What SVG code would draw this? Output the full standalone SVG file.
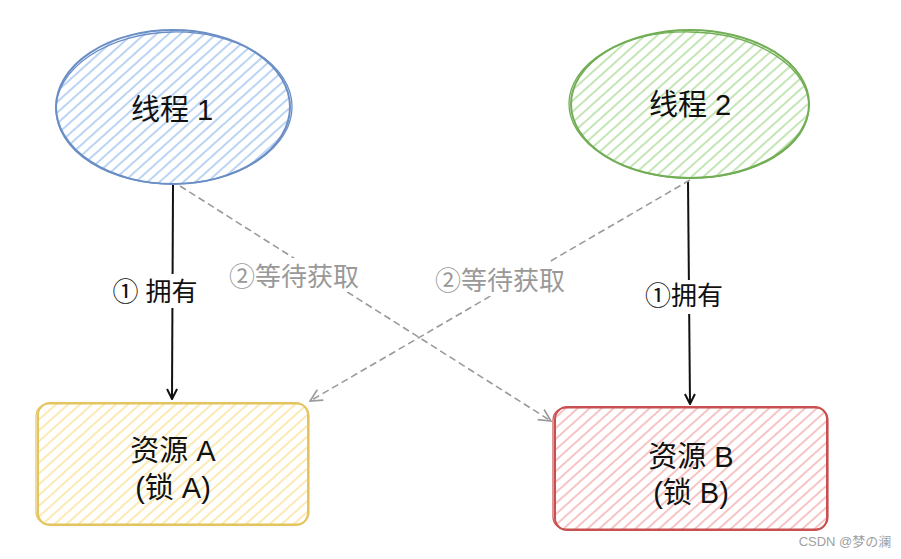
<svg xmlns="http://www.w3.org/2000/svg" width="901" height="559" viewBox="0 0 901 559">
<defs>
<style>
text{font-family:"Liberation Sans","Noto Sans CJK SC",sans-serif;text-anchor:middle;}
.lbl{font-size:29px;fill:#111;}
.edge{font-size:26px;}
.own{stroke:#111;stroke-width:2;fill:none;}
.wait{stroke:#9a9a9a;stroke-width:1.6;fill:none;stroke-dasharray:7 4;}
</style>
<pattern id="hb" patternUnits="userSpaceOnUse" width="8" height="8" patternTransform="rotate(-42)"><line x1="0" y1="2" x2="8" y2="2" stroke="#b3cff2" stroke-width="1.8"/></pattern>
<pattern id="hg" patternUnits="userSpaceOnUse" width="8" height="8" patternTransform="rotate(-42)"><line x1="0" y1="2" x2="8" y2="2" stroke="#bde2ae" stroke-width="1.8"/></pattern>
<pattern id="hy" patternUnits="userSpaceOnUse" width="8" height="8" patternTransform="rotate(-42)"><line x1="0" y1="2" x2="8" y2="2" stroke="#fbe8aa" stroke-width="1.8"/></pattern>
<pattern id="hr" patternUnits="userSpaceOnUse" width="8" height="8" patternTransform="rotate(-42)"><line x1="0" y1="2" x2="8" y2="2" stroke="#f7bdbd" stroke-width="1.8"/></pattern>
<marker id="ab" viewBox="0 0 12 12" refX="11" refY="6" markerWidth="12" markerHeight="12" markerUnits="userSpaceOnUse" orient="auto"><path d="M1,1 L11,6 L1,11" fill="none" stroke="#111" stroke-width="2"/></marker>
<marker id="ag" viewBox="0 0 14 14" refX="13" refY="7" markerWidth="14" markerHeight="14" markerUnits="userSpaceOnUse" orient="auto"><path d="M1,1 L13,7 L1,13" fill="none" stroke="#9a9a9a" stroke-width="1.6"/></marker>
</defs>
<rect width="901" height="559" fill="#fff"/>
<g id="connectors">
<line class="own" x1="173" y1="185" x2="172" y2="399" marker-end="url(#ab)"/>
<line class="own" x1="688" y1="181" x2="690" y2="404" marker-end="url(#ab)"/>
<line class="wait" x1="180" y1="186" x2="551" y2="421" marker-end="url(#ag)"/>
<line class="wait" x1="690" y1="180" x2="310" y2="401" marker-end="url(#ag)"/>
<rect x="104" y="274" width="102" height="34" fill="#fff"/>
<rect x="218" y="258" width="152" height="34" fill="#fff"/>
<rect x="424" y="262" width="152" height="34" fill="#fff"/>
<rect x="630" y="280" width="90" height="34" fill="#fff"/>
<text class="edge" x="155" y="301" fill="#111">① 拥有</text>
<text class="edge" x="294" y="286" fill="#999">②等待获取</text>
<text class="edge" x="500" y="290" fill="#999">②等待获取</text>
<text class="edge" x="684" y="305" fill="#111">①拥有</text>
</g>
<g id="thread1">
<ellipse cx="173" cy="107" rx="117" ry="77" fill="url(#hb)"/>
<ellipse cx="173" cy="107" rx="117" ry="77" fill="none" stroke="#6a8ec6" stroke-width="2"/>
<ellipse cx="174" cy="108" rx="118" ry="76" fill="none" stroke="#6a8ec6" stroke-width="1.3" transform="rotate(-1 173 107)"/>
<text class="lbl" x="172" y="120">线程 1</text>
</g>
<g id="thread2">
<ellipse cx="690" cy="104" rx="119" ry="74" fill="url(#hg)"/>
<ellipse cx="690" cy="104" rx="119" ry="74" fill="none" stroke="#72ae55" stroke-width="2"/>
<ellipse cx="689" cy="105" rx="120" ry="73" fill="none" stroke="#72ae55" stroke-width="1.3" transform="rotate(1 690 104)"/>
<text class="lbl" x="690" y="115">线程 2</text>
</g>
<g id="resourceA">
<rect x="38" y="403" width="270" height="122" rx="12" fill="url(#hy)"/>
<rect x="38" y="403" width="270" height="122" rx="12" fill="none" stroke="#e4c45e" stroke-width="2"/>
<rect x="36" y="404" width="273" height="120" rx="12" fill="none" stroke="#e4c45e" stroke-width="1.2"/>
<text class="lbl" x="173" y="461">资源 A</text>
<text class="lbl" x="173" y="498">(锁 A)</text>
</g>
<g id="resourceB">
<rect x="555" y="407" width="272" height="123" rx="12" fill="url(#hr)"/>
<rect x="555" y="407" width="272" height="123" rx="12" fill="none" stroke="#c85050" stroke-width="2"/>
<rect x="553" y="408" width="275" height="121" rx="12" fill="none" stroke="#c85050" stroke-width="1.2"/>
<text class="lbl" x="691" y="467">资源 B</text>
<text class="lbl" x="691" y="503">(锁 B)</text>
</g>
<text x="845" y="546" style="font-size:13px;fill:#a0a0a0">CSDN @梦の澜</text>
</svg>
